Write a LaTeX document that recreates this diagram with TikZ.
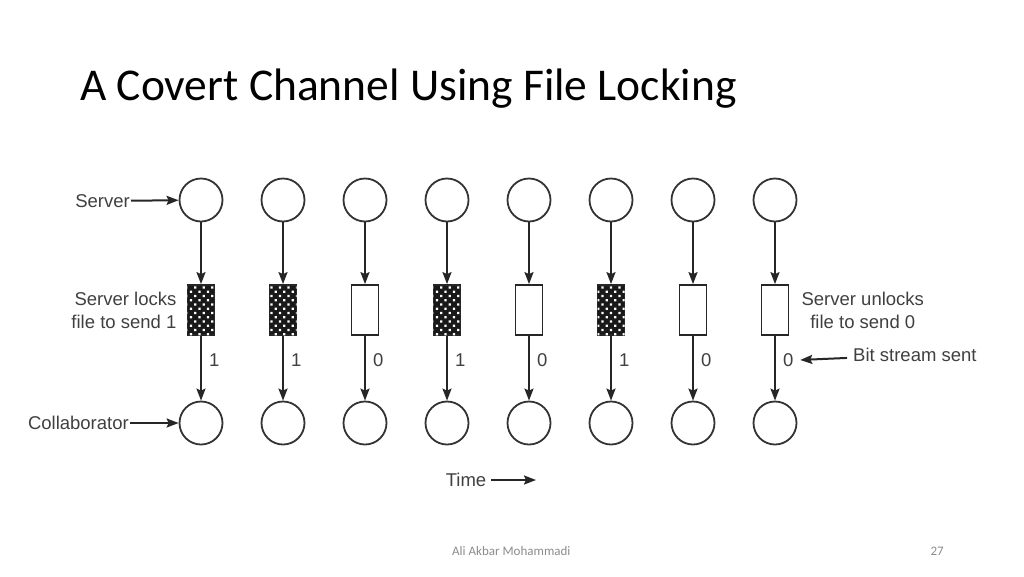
\documentclass[tikz,border=0pt]{standalone}
\usepackage{fontspec}
\setmainfont{Carlito}
\newfontfamily\figfont{Liberation Sans}
\usetikzlibrary{positioning}
\usetikzlibrary{arrows.meta}
\usetikzlibrary{patterns.meta}

\begin{document}
\begin{tikzpicture}[
            x=1pt, y=-1pt,
            proc node/.style={circle,draw=black!80,line width=1.8pt,minimum size=43pt,inner sep=0pt},
            file node/.style={rectangle,draw=black!85,line width=1.8pt,minimum width=27pt,minimum height=50pt,inner sep=0pt},
            locked/.style={file node,fill=black!90,postaction={pattern={Dots[distance=6pt,radius=1.6pt,angle=45]},pattern color=white}},
            label text/.style={font=\figfont\fontsize{18.5}{23}\selectfont,text=black!75,inner sep=1pt},
            bit/.style={label text,right,xshift=6pt,pos=0.38},
            arr/.style={-{Stealth[length=12pt,width=9pt,inset=2pt]},line width=2pt,draw=black!85},
            ]
            \useasboundingbox (0,0) rectangle (1024,576);
            \fill[white] (0,0) rectangle (1024,576);

            \node[font=\fontsize{45.5}{54}\selectfont,anchor=base west,inner sep=0pt] (title) at (80,100) {A Covert Channel Using File Locking};

            % server side
            \node[proc node] (s1) at (201,200) {};
            \node[proc node] (s2) at (283,200) {};
            \node[proc node] (s3) at (365,200) {};
            \node[proc node] (s4) at (447,200) {};
            \node[proc node] (s5) at (529,200) {};
            \node[proc node] (s6) at (611,200) {};
            \node[proc node] (s7) at (693,200) {};
            \node[proc node] (s8) at (775,200) {};

            % the file, locked or not
            \node[locked] (f1) at (201,310) {};
            \node[locked] (f2) at (283,310) {};
            \node[file node] (f3) at (365,310) {};
            \node[locked] (f4) at (447,310) {};
            \node[file node] (f5) at (529,310) {};
            \node[locked] (f6) at (611,310) {};
            \node[file node] (f7) at (693,310) {};
            \node[file node] (f8) at (775,310) {};

            % collaborator side
            \node[proc node] (c1) at (201,423) {};
            \node[proc node] (c2) at (283,423) {};
            \node[proc node] (c3) at (365,423) {};
            \node[proc node] (c4) at (447,423) {};
            \node[proc node] (c5) at (529,423) {};
            \node[proc node] (c6) at (611,423) {};
            \node[proc node] (c7) at (693,423) {};
            \node[proc node] (c8) at (775,423) {};

            \draw[arr] (s1) -- (f1); \draw[arr] (f1) -- node[bit] (b1) {1} (c1);
            \draw[arr] (s2) -- (f2); \draw[arr] (f2) -- node[bit] (b2) {1} (c2);
            \draw[arr] (s3) -- (f3); \draw[arr] (f3) -- node[bit] (b3) {0} (c3);
            \draw[arr] (s4) -- (f4); \draw[arr] (f4) -- node[bit] (b4) {1} (c4);
            \draw[arr] (s5) -- (f5); \draw[arr] (f5) -- node[bit] (b5) {0} (c5);
            \draw[arr] (s6) -- (f6); \draw[arr] (f6) -- node[bit] (b6) {1} (c6);
            \draw[arr] (s7) -- (f7); \draw[arr] (f7) -- node[bit] (b7) {0} (c7);
            \draw[arr] (s8) -- (f8); \draw[arr] (f8) -- node[bit] (b8) {0} (c8);

            % labels
            \node[label text,anchor=east] (server) at (131,201) {Server};
            \node[label text,anchor=east] (collab) at (130,423) {Collaborator};
            \node[label text,align=right,left=9pt of f1] (locks) {Server locks\\file to send 1};
            \node[label text,align=center,right=11pt of f8] (unlocks) {Server unlocks\\file to send 0};
            \node[label text,anchor=west] (stream) at (852,355) {Bit stream sent};
            \node[label text] (time) at (466,480) {Time};
            \coordinate (timeend) at (536,480);

            \draw[arr] (server) -- (s1);
            \draw[arr] (collab) -- (c1);
            \draw[arr,shorten <=5pt,shorten >=5pt] (stream) -- (b8);
            \draw[arr,shorten <=4pt] (time) -- (timeend);

            % footer
            \node[font=\fontsize{13}{15}\selectfont,text=black!45,anchor=base west,inner sep=0pt] (author) at (452,555) {Ali Akbar Mohammadi};
            \node[font=\fontsize{13}{15}\selectfont,text=black!45,anchor=base east,inner sep=0pt] (page) at (944,555) {27};
        \end{tikzpicture}
\end{document}
